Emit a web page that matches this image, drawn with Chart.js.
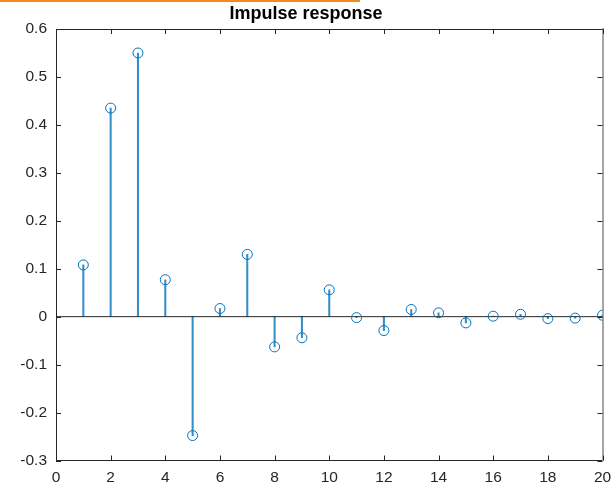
<!DOCTYPE html>
<html>
<head>
<meta charset="utf-8">
<title>Impulse response</title>
<script src="https://cdn.jsdelivr.net/npm/chart.js@4.4.1/dist/chart.umd.min.js"></script>
<style>
  html, body { margin: 0; padding: 0; background: #fff; }
  #wrap { position: relative; width: 612px; height: 491px; }
  #bar-top { position: absolute; left: 0; top: 0; width: 360px; height: 2px; background: #f5891e; }
</style>
</head>
<body>
<div id="wrap">
  <canvas id="grafico"></canvas>
  <div id="bar-top"></div>
</div>
<script>
// amostras da resposta ao impulso h[n], n = 1..20
const amostras = [1, 2, 3, 4, 5, 6, 7, 8, 9, 10, 11, 12, 13, 14, 15, 16, 17, 18, 19, 20];
const resposta = [0.108, 0.435, 0.550, 0.077, -0.248, 0.017, 0.130, -0.063, -0.044, 0.056,
                  -0.002, -0.029, 0.015, 0.008, -0.013, 0.001, 0.005, -0.004, -0.003, 0.003];
const limites_x = [0, 20];
const limites_y = [-0.3, 0.6];
const passo_x = 2;
const passo_y = 0.1;

const azul = '#0072bd';
const eixo = '#262626';
const fonte = { family: 'Arial, "Liberation Sans", Helvetica, sans-serif', size: 15.5 };

const pontos = amostras.map((n, i) => ({ x: n, y: resposta[i] }));

// marcas de escala para dentro da caixa, nos quatro lados (estilo MATLAB)
const marcasInternas = {
  id: 'marcasInternas',
  afterDraw(chart) {
    const c = chart.ctx;
    const a = chart.chartArea;
    const sx = chart.scales.x;
    const sy = chart.scales.y;
    const tam = 5;
    c.save();
    c.strokeStyle = eixo;
    c.lineWidth = 1;
    c.beginPath();
    for (let v = limites_x[0]; v <= limites_x[1] + 1e-9; v += passo_x) {
      const px = Math.round(sx.getPixelForValue(v)) + 0.5;
      c.moveTo(px, a.bottom); c.lineTo(px, a.bottom - tam);
      c.moveTo(px, a.top); c.lineTo(px, a.top + tam);
    }
    for (let k = 0; k <= Math.round((limites_y[1] - limites_y[0]) / passo_y); k++) {
      const v = limites_y[0] + k * passo_y;
      const py = Math.round(sy.getPixelForValue(v)) + 0.5;
      c.moveTo(a.left, py); c.lineTo(a.left + tam, py);
      c.moveTo(a.right, py); c.lineTo(a.right - tam, py);
    }
    c.stroke();
    c.restore();
  }
};

const semPadding = (s) => { s.paddingLeft = 0; s.paddingRight = 0; s.paddingTop = 0; s.paddingBottom = 0; };

const ctx = document.getElementById('grafico').getContext('2d');
new Chart(ctx, {
  type: 'scatter',
  data: {
    datasets: [
      {
        type: 'bar',
        data: pontos,
        backgroundColor: 'rgba(0,114,189,0.8)',
        borderWidth: 0,
        barThickness: 1.4,
        grouped: false,
        order: 3
      },
      {
        type: 'line',
        data: [{ x: limites_x[0], y: 0 }, { x: limites_x[1], y: 0 }],
        borderColor: eixo,
        borderWidth: 1,
        pointRadius: 0,
        order: 2
      },
      {
        type: 'scatter',
        data: pontos,
        pointStyle: 'circle',
        pointRadius: 5,
        pointBorderWidth: 1,
        pointBorderColor: azul,
        pointBackgroundColor: 'rgba(0,0,0,0)',
        order: 1
      }
    ]
  },
  options: {
    responsive: true,
    maintainAspectRatio: false,
    animation: false,
    layout: { padding: 0 },
    plugins: {
      legend: { display: false },
      tooltip: { enabled: false },
      title: {
        display: true,
        text: 'Impulse response',
        color: '#000',
        font: { family: fonte.family, size: 18, weight: 'bold', lineHeight: 1.2 },
        padding: { top: 3.5, bottom: 3.9 }
      }
    },
    scales: {
      x: {
        type: 'linear',
        position: 'bottom',
        min: limites_x[0],
        max: limites_x[1],
        offset: false,
        grid: { display: false, drawTicks: false },
        border: { display: true, color: eixo, width: 1 },
        ticks: { stepSize: passo_x, color: eixo, font: fonte, padding: 8, maxRotation: 0 },
        afterFit: (s) => { s.height = 30.5; semPadding(s); }
      },
      y: {
        type: 'linear',
        position: 'left',
        min: limites_y[0],
        max: limites_y[1],
        grid: { display: false, drawTicks: false },
        border: { display: true, color: eixo, width: 1 },
        ticks: {
          stepSize: passo_y,
          color: eixo,
          font: fonte,
          padding: 9,
          callback: (v) => String(Math.round(v * 10) / 10)
        },
        afterFit: (s) => { s.width = 56; semPadding(s); }
      },
      x2: {
        type: 'linear',
        position: 'top',
        min: limites_x[0],
        max: limites_x[1],
        grid: { display: false, drawTicks: false },
        border: { display: true, color: eixo, width: 1 },
        ticks: { display: false },
        afterFit: (s) => { s.height = 0; semPadding(s); }
      },
      y2: {
        type: 'linear',
        position: 'right',
        min: limites_y[0],
        max: limites_y[1],
        grid: { display: false, drawTicks: false },
        border: { display: true, color: '#a6a6a6', width: 2 },
        ticks: { display: false },
        afterFit: (s) => { s.width = 9.5; semPadding(s); }
      }
    }
  },
  plugins: [marcasInternas]
});
</script>
</body>
</html>
